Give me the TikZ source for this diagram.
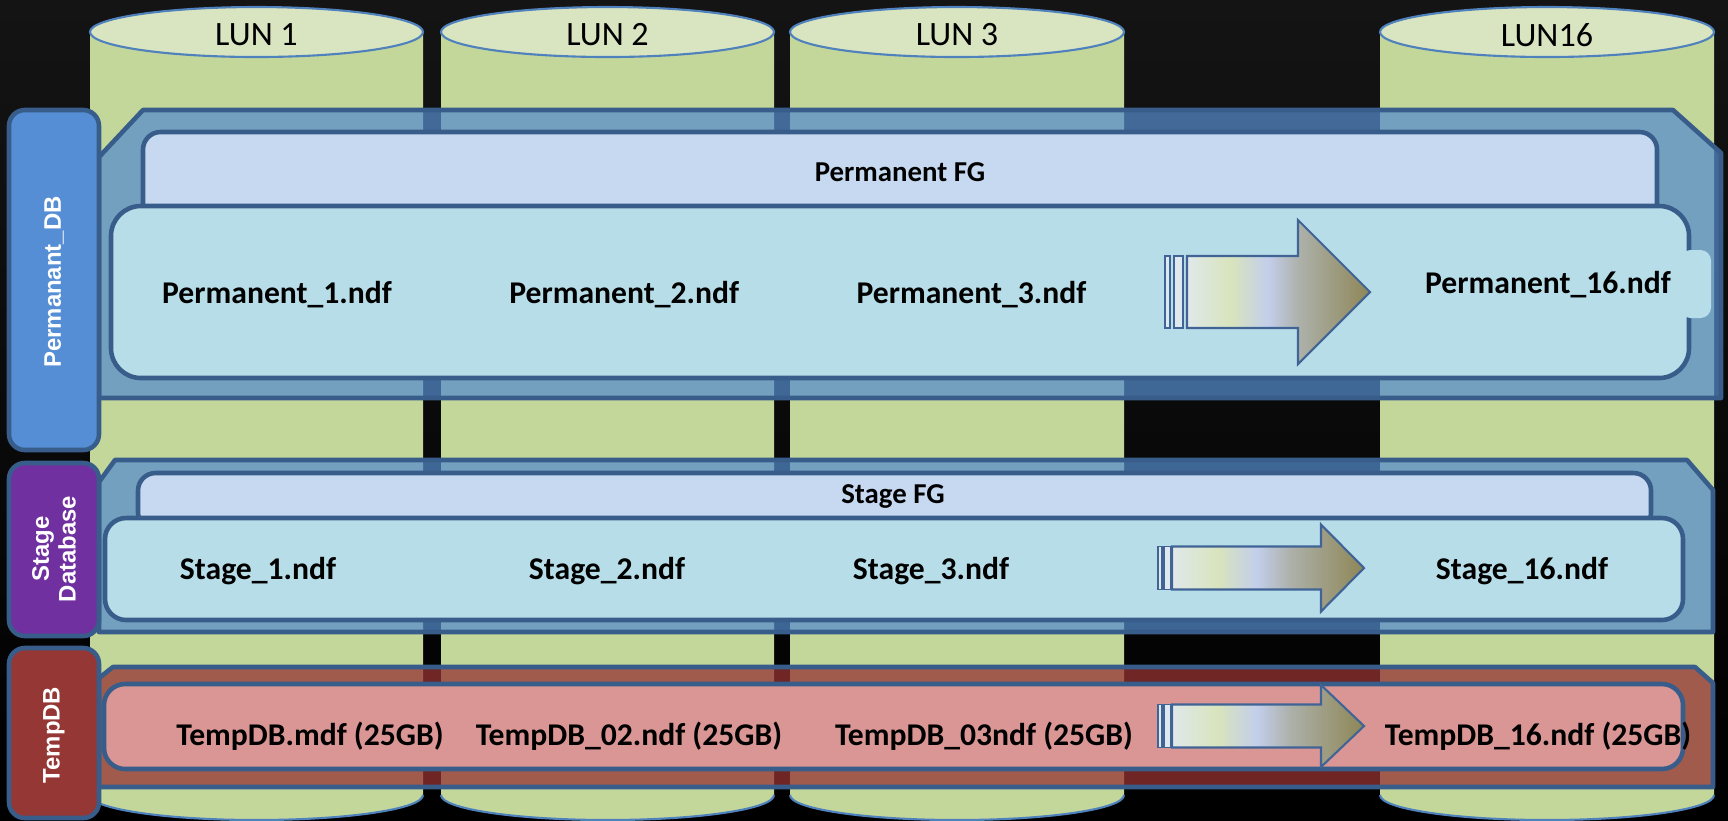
\documentclass[tikz,border=0pt]{standalone}
\usepackage{fontspec}
\setmainfont{Carlito}
\newfontfamily\tabfont{Liberation Sans}
\usetikzlibrary{positioning}
\definecolor{bgtop}{RGB}{20,20,20}
\definecolor{lunbody}{RGB}{196,215,155}
\definecolor{luntop}{RGB}{217,229,193}
\definecolor{lunline}{RGB}{79,129,189}
\definecolor{frameline}{RGB}{56,93,138}
\definecolor{permframe}{RGB}{85,140,205}
\definecolor{tempframe}{RGB}{150,50,50}
\definecolor{fgfill}{RGB}{198,217,241}
\definecolor{ndffill}{RGB}{183,221,232}
\definecolor{tempndf}{RGB}{218,150,148}
\definecolor{permtab}{RGB}{85,142,213}
\definecolor{stagetab}{RGB}{112,48,160}
\definecolor{temptab}{RGB}{149,55,53}
\definecolor{barfill}{RGB}{222,232,238}
\definecolor{arrline}{RGB}{65,100,150}
\definecolor{arrA}{RGB}{224,232,234}
\definecolor{arrB}{RGB}{216,228,188}
\definecolor{arrC}{RGB}{195,206,235}
\definecolor{arrD}{RGB}{172,176,168}
\definecolor{arrE}{RGB}{142,134,86}
\pgfdeclarehorizontalshading{fileshift}{100bp}{color(0bp)=(arrA); color(25bp)=(arrA); color(37bp)=(arrB); color(47bp)=(arrC); color(56bp)=(arrD); color(75bp)=(arrE); color(100bp)=(arrE)}

\begin{document}
\begin{tikzpicture}[x=0.01cm, y=-0.01cm, node distance=3.47cm, on grid,
  lun/.style={fill=lunbody},
  lunend/.style={fill=luntop, draw=lunline, line width=0.6pt},
  lunname/.style={font=\fontsize{9.7}{11}\selectfont},
  frame/.style={fill=permframe, fill opacity=0.72, draw=frameline, line width=1.3pt, line join=round},
  fgbox/.style={fill=fgfill, draw=frameline, line width=1.3pt, rounded corners=5pt},
  ndfbox/.style={fill=ndffill, draw=frameline, line width=1.3pt, rounded corners=6pt},
  tab/.style={draw=frameline, line width=1.3pt, rounded corners=4.5pt},
  tabtext/.style={text=white, font=\tabfont\bfseries\fontsize{6.8}{7.6}\selectfont, rotate=90, align=center},
  file/.style={font=\bfseries\fontsize{9}{11}\selectfont},
  fgname/.style={font=\bfseries\fontsize{8.2}{10}\selectfont},
  shiftbar/.style={fill=barfill, draw=arrline, line width=0.5pt},
  shiftarrow/.style={shading=fileshift, draw=arrline, line width=0.6pt, line join=miter}]
 \useasboundingbox (0,0) rectangle (1728,820);
 \shade[top color=bgtop, bottom color=black] (0,0) rectangle (1728,820);
 % LUN cylinders
 \foreach \xl/\xr/\lname/\lid in {90/423/LUN 1/lun1, 441/774/LUN 2/lun2, 790/1124/LUN 3/lun3, 1380/1714/LUN16/lun16}{
   \pgfmathsetmacro\cx{(\xl+\xr)/2}
   \pgfmathsetmacro\rx{(\xr-\xl)/2}
   \fill[lun] (\xl,32) -- (\xl,795) arc[start angle=180, end angle=0, x radius=\rx, y radius=25] -- (\xr,32) -- cycle;
   \draw[lunline, line width=0.6pt] (\xl,795) arc[start angle=180, end angle=0, x radius=\rx, y radius=25];
   \draw[lunend] (\cx,32) ellipse[x radius=\rx, y radius=25];
   \node[lunname] (\lid) at (\cx,35) {\lname};
 }
 % file group frames
 \draw[frame] (99,157) -- (143,110) -- (1673,110) -- (1721,153) -- (1721,398) -- (99,398) -- cycle;
 \draw[frame] (99,482) -- (115,460) -- (1687,460) -- (1713,490) -- (1713,632) -- (99,632) -- cycle;
 \draw[frame, fill=tempframe, fill opacity=0.75] (99,678) -- (113,667) -- (1695,667) -- (1713,683) -- (1713,787) -- (99,787) -- cycle;
 % Permanent
 \draw[fgbox] (143,132) rectangle (1657,230);
 \node[fgname] (permfg) at (900,172) {Permanent FG};
 \draw[ndfbox, rounded corners=8.5pt] (111,206) rectangle (1689,378);
 \fill[ndffill, rounded corners=3pt] (1680,250) rectangle (1711,318);
 \node[file] (perm1) at (277,295) {Permanent\_1.ndf};
 \node[file] (perm2) [right=of perm1] {Permanent\_2.ndf};
 \node[file] (perm3) [right=of perm2] {Permanent\_3.ndf};
 \node[file] (perm16) at (1548,285) {Permanent\_16.ndf};
 % Stage
 \draw[fgbox] (138,473) rectangle (1651,530);
 \node[fgname] (stagefg) at (893,496) {Stage FG};
 \draw[ndfbox] (105,518) rectangle (1683,620);
 \node[file] (stage1) at (258,571) {Stage\_1.ndf};
 \node[file] (stage2) at (607,571) {Stage\_2.ndf};
 \node[file] (stage3) at (931,571) {Stage\_3.ndf};
 \node[file] (stage16) at (1522,571) {Stage\_16.ndf};
 % TempDB
 \draw[ndfbox, fill=tempndf] (104,684) rectangle (1683,769);
 \node[file] (temp1) at (310,736) {TempDB.mdf (25GB)};
 \node[file] (temp2) at (629,736) {TempDB\_02.ndf (25GB)};
 \node[file] (temp3) at (984,736) {TempDB\_03ndf (25GB)};
 \node[file] (temp16) at (1538,736) {TempDB\_16.ndf (25GB)};
 % shift arrows
 \foreach \ba/\bb/\bc/\bd/\xs/\xh/\xt/\yc/\sh/\hh in {1165/1170/1174/1183/1187/1298/1370/292/36/72,
     1158/1162/1164/1171/1172/1321/1364/568/21.5/43.5,
     1158/1162/1164/1171/1172/1321/1364/726/21.5/41}{
   \draw[shiftbar] (\ba,\yc-\sh) rectangle (\bb,\yc+\sh);
   \draw[shiftbar] (\bc,\yc-\sh) rectangle (\bd,\yc+\sh);
   \draw[shiftarrow] (\xs,\yc-\sh) -- (\xh,\yc-\sh) -- (\xh,\yc-\hh) -- (\xt,\yc) -- (\xh,\yc+\hh) -- (\xh,\yc+\sh) -- (\xs,\yc+\sh) -- cycle;
 }
 % database tabs
 \draw[tab, fill=permtab] (9,110) rectangle (99,450);
 \node[tabtext] (permdb) at (54,282) {Permanant\_DB};
 \draw[tab, fill=stagetab] (9,463) rectangle (99,636);
 \node[tabtext] (stagedb) at (54,549) {Stage\\Database};
 \draw[tab, fill=temptab] (9,648) rectangle (99,818);
 \node[tabtext] (tempdb) at (54,735) {TempDB};
\end{tikzpicture}
\end{document}
